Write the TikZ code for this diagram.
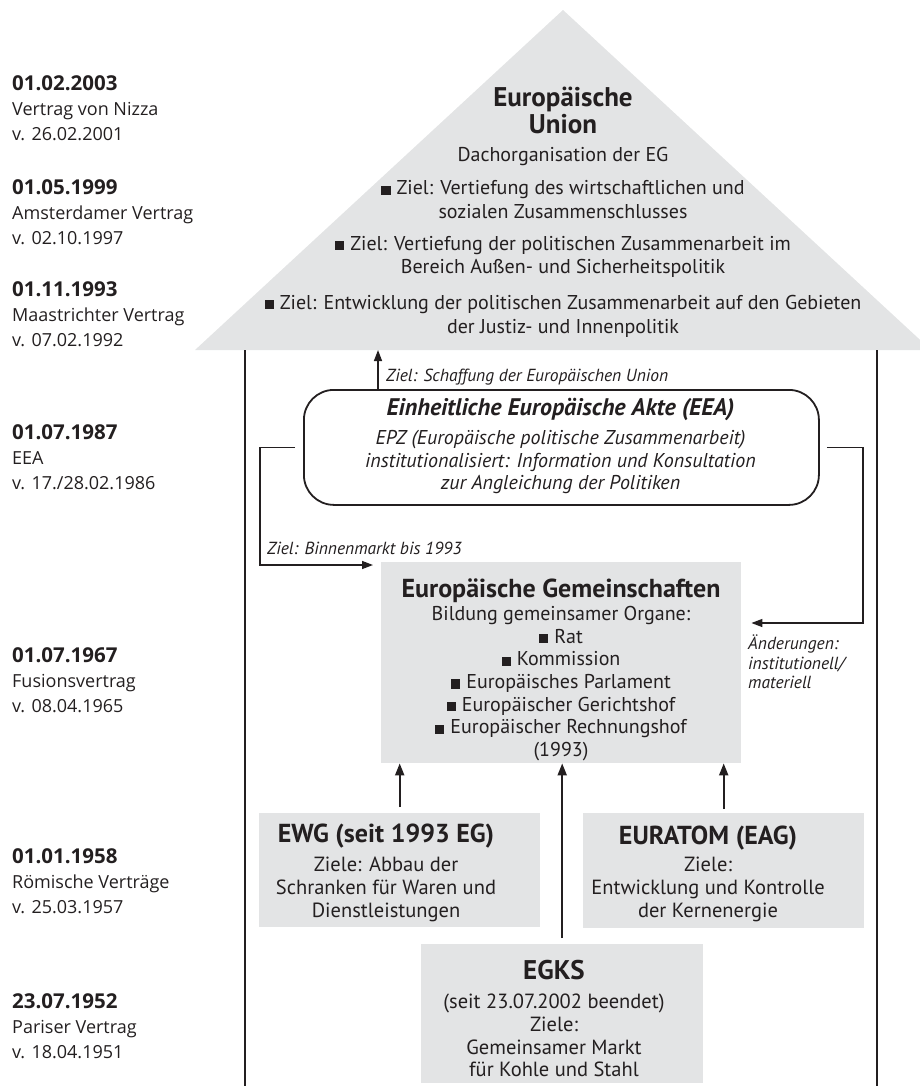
\documentclass[tikz,border=0pt]{standalone}
\usepackage{fontspec}
\setmainfont{PT Sans}
\newfontfamily\sidefont{Open Sans}
\usetikzlibrary{arrows.meta,positioning}
\definecolor{roofgray}{RGB}{227,228,229}
\definecolor{inkblack}{RGB}{35,31,32}
\newcommand{\blt}{\rule{0.46em}{0.46em}\hspace{0.3em}}
\tikzset{
  graybox/.style={fill=roofgray,inner sep=0pt,anchor=north west},
  txt/.style={align=center,inner sep=0pt,font=\fontsize{20.5}{22.7}\selectfont},
  lbl/.style={inner sep=0pt,font=\itshape\fontsize{17.5}{19.5}\selectfont},
  arr/.style={line width=2pt,-{Triangle[length=12pt,width=9pt]}},
  conn/.style={line width=1.4pt,-{Triangle[length=11pt,width=8pt]}},
  side/.style={align=left,inner sep=0pt,anchor=north west,font=\sidefont\fontsize{18}{25.3}\selectfont},
}
\newcommand{\ttl}[1]{{\bfseries\fontsize{26}{22}\selectfont #1}}
\begin{document}
\begin{tikzpicture}[x=1pt,y=-1pt,color=inkblack]
  \useasboundingbox (0,0) rectangle (919,1086);
  \fill[roofgray] (195,350) -- (563,10) -- (931,350) -- cycle;
  \draw[line width=2pt] (245,350) -- (245,1090) (877,350) -- (877,1090);
  \foreach \y/\d/\n/\v [count=\i] in {83/01.02.2003/Vertrag von Nizza/v. 26.02.2001,
      187/01.05.1999/Amsterdamer Vertrag/v. 02.10.1997,
      289/01.11.1993/Maastrichter Vertrag/v. 07.02.1992,
      432/01.07.1987/EEA/{v. 17./28.02.1986},
      655/01.07.1967/Fusionsvertrag/v. 08.04.1965,
      856/01.01.1958/Römische Verträge/v. 25.03.1957,
      1001/23.07.1952/Pariser Vertrag/v. 18.04.1951}
    \node[side] (date\i) at (12,\y-8) {{\bfseries\fontsize{20.5}{20}\selectfont\d}\\\n\\\v};
  \node[txt,font=\bfseries\fontsize{27}{27}\selectfont] (eu) at (563,110.5) {Europäische\\Union};
  \node[txt,font=\fontsize{20}{23.5}\selectfont] (dach) at (563,157) {Dachorganisation der EG};
  \node[txt,font=\fontsize{20}{23.5}\selectfont] (ziel1) at (563,199.5)
    {\blt Ziel: Vertiefung des wirtschaftlichen und\\sozialen Zusammenschlusses};
  \node[txt,font=\fontsize{20}{23.5}\selectfont] (ziel2) at (563,257)
    {\blt Ziel: Vertiefung der politischen Zusammenarbeit im\\Bereich Außen- und Sicherheitspolitik};
  \node[txt,font=\fontsize{20}{24.5}\selectfont] (ziel3) at (563,316.5)
    {\blt Ziel: Entwicklung der politischen Zusammenarbeit auf den Gebieten\\der Justiz- und Innenpolitik};
  \coordinate (eubase) at (378,350);
  \node[draw,line width=1.8pt,rounded corners=30pt,inner sep=0pt,anchor=north west,
        minimum width=515pt,minimum height=115pt] (eea) at (303,389) {};
  \node[txt,font=\itshape\fontsize{20}{22.7}\selectfont] (eeatxt) at (560.5,446)
    {{\bfseries\fontsize{24}{22}\selectfont Einheitliche Europäische Akte (EEA)}\\[6.5pt]
     EPZ (Europäische politische Zusammenarbeit)\\
     institutionalisiert: Information und Konsultation\\
     zur Angleichung der Politiken};
  \node[lbl,anchor=west] (schaffung) at (386,377) {Ziel: Schaffung der Europäischen Union};
  \draw[conn] (eea.north -| eubase) -- (eubase);
  \node[graybox,minimum width=360pt,minimum height=201pt] (eg) at (381,562) {};
  \node[txt,font=\fontsize{20}{22.7}\selectfont] (egtxt) at (561,670)
    {\ttl{Europäische Gemeinschaften}\\
     Bildung gemeinsamer Organe:\\ \blt Rat\\ \blt Kommission\\ \blt Europäisches Parlament\\
     \blt Europäischer Gerichtshof\\ \blt Europäischer Rechnungshof\\ (1993)};
  \coordinate (lbend) at (260,565);
  \coordinate (rbend) at (863,623);
  \draw[conn] ([xshift=-8pt]eea.west) -| (lbend) -- ([xshift=-8pt]eg.west |- lbend);
  \draw[conn] ([xshift=7pt]eea.east) -| (rbend) -- ([xshift=10pt]eg.east |- rbend);
  \node[lbl,anchor=west] (binnen) at (267,548) {Ziel: Binnenmarkt bis 1993};
  \node[lbl,align=left,anchor=north west] (aend) at (748,635) {Änderungen:\\institutionell/\\materiell};
  \node[graybox,minimum width=281pt,minimum height=114pt] (ewg) at (259,813) {};
  \node[txt] (ewgtxt) at (386,872.5)
    {\ttl{EWG (seit 1993 EG)}\\[7pt]
     Ziele: Abbau der\\ Schranken für Waren und\\ Dienstleistungen};
  \node[graybox,minimum width=281pt,minimum height=115pt] (euratom) at (583,813) {};
  \node[txt] (euratomtxt) at (708,873.5)
    {\ttl{EURATOM (EAG)}\\[5pt]
     Ziele:\\ Entwicklung und Kontrolle\\ der Kernenergie};
  \node[graybox,minimum width=282pt,minimum height=139pt] (egks) at (421,944) {};
  \node[txt] (egkstxt) at (554,1018.5)
    {{\bfseries\fontsize{27}{24}\selectfont EGKS}\\[7pt]
     (seit 23.07.2002 beendet)\\ Ziele:\\ Gemeinsamer Markt\\ für Kohle und Stahl};
  \draw[arr,shorten <=6pt] (ewg.north) -- (ewg.north |- eg.south);
  \draw[arr,shorten <=6pt] (egks.north) -- (egks.north |- eg.south);
  \draw[arr,shorten <=4pt] (euratom.north) -- (euratom.north |- eg.south);
\end{tikzpicture}
\end{document}
